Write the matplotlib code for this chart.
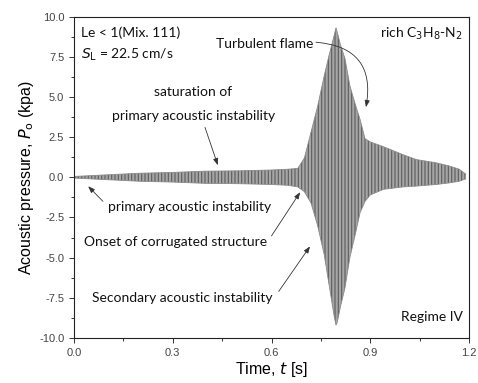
import numpy as np
import matplotlib
matplotlib.use("Agg")
import matplotlib.pyplot as plt
from matplotlib.ticker import MultipleLocator, FormatStrFormatter

# ── pressure trace envelope (kPa) over time (s) ────────────────────────────
t_env = [0.0, 0.05, 0.10, 0.20, 0.30, 0.40, 0.50, 0.60, 0.65, 0.68, 0.70,
         0.72, 0.74, 0.76, 0.775, 0.79, 0.796, 0.80, 0.81, 0.823, 0.838,
         0.855, 0.869, 0.884, 0.90, 0.94, 1.00, 1.04, 1.10, 1.14, 1.17, 1.19]
p_upper = [0.05, 0.10, 0.15, 0.25, 0.30, 0.38, 0.40, 0.45, 0.50, 0.55, 1.2,
           2.8, 4.4, 6.3, 7.6, 8.8, 9.3, 9.0, 8.2, 7.4, 5.7,
           4.5, 3.6, 2.4, 2.2, 1.9, 1.4, 1.1, 0.9, 0.7, 0.5, 0.2]
p_lower = [-0.05, -0.10, -0.15, -0.25, -0.30, -0.38, -0.40, -0.45, -0.50, -0.60, -0.9,
           -1.6, -3.0, -4.8, -6.7, -8.6, -9.2, -9.0, -8.0, -6.9, -5.0,
           -3.5, -2.2, -1.5, -1.1, -0.75, -0.6, -0.55, -0.45, -0.35, -0.25, -0.1]

x_ticks = [0.0, 0.3, 0.6, 0.9, 1.2]

ANN = {"family": "Lato", "fontsize": 10, "color": "#111111"}
ARROW = dict(arrowstyle="-|>,head_length=0.4,head_width=0.15", color="#333333",
             lw=0.6, shrinkA=0, shrinkB=0)

plt.rcParams["font.family"] = ["Liberation Sans", "DejaVu Sans"]
plt.rcParams["hatch.linewidth"] = 0.8

fig = plt.figure(figsize=(4.78, 3.83), dpi=100)
ax = fig.add_axes([0.1548, 0.1175, 0.8264, 0.8394])

# dense oscillation drawn as a hatched band between the envelopes
ax.fill_between(t_env, p_lower, p_upper, facecolor="#a6a6a6",
                edgecolor="#5c5c5c", hatch="|||||", linewidth=0)
ax.plot(t_env, p_upper, color="#8a8a8a", lw=0.6)
ax.plot(t_env, p_lower, color="#8a8a8a", lw=0.6)

ax.set_xlim(0, 1.2)
ax.set_ylim(-10, 10)
ax.set_xticks(x_ticks)
ax.xaxis.set_minor_locator(MultipleLocator(0.15))
ax.yaxis.set_major_locator(MultipleLocator(2.5))
ax.yaxis.set_minor_locator(MultipleLocator(1.25))
ax.xaxis.set_major_formatter(FormatStrFormatter("%.1f"))
ax.yaxis.set_major_formatter(FormatStrFormatter("%.1f"))
ax.tick_params(which="both", direction="out", top=False, right=False,
               color="#333333", width=0.7)
ax.tick_params(which="major", length=3.5, labelsize=8, labelcolor="#444444")
ax.tick_params(which="minor", length=2)
for s in ax.spines.values():
    s.set_linewidth(0.8)
    s.set_color("#222222")

ax.set_xlabel("Time, $t$ [s]", fontsize=11.5, labelpad=2)
ax.set_ylabel("Acoustic pressure, $P_\\mathrm{o}$ (kpa)", fontsize=11.5, labelpad=2)

# ── annotations ────────────────────────────────────────────────────────────
ax.text(0.02, 9.0, "Le < 1(Mix. 111)", ha="left", va="center", **ANN)
ax.text(0.02, 7.6, "$S_\\mathrm{L}$ = 22.5 cm/s", ha="left", va="center", **ANN)
ax.text(1.18, 8.9, "rich C$_3$H$_8$-N$_2$", ha="right", va="center", **ANN)
ax.text(1.18, -8.7, "Regime IV", ha="right", va="center", **ANN)

ax.text(0.58, 8.3, "Turbulent flame", ha="center", va="center", **ANN)
ax.annotate("", xy=(0.887, 4.36), xytext=(0.735, 8.4),
            arrowprops=dict(ARROW, connectionstyle="arc3,rad=-0.55"))

ax.text(0.362, 5.3, "saturation of", ha="center", va="center", **ANN)
ax.text(0.362, 3.8, "primary acoustic instability", ha="center", va="center", **ANN)
ax.annotate("", xy=(0.437, 0.75), xytext=(0.398, 3.1), arrowprops=ARROW)

ax.text(0.35, -1.85, "primary acoustic instability", ha="center", va="center", **ANN)
ax.annotate("", xy=(0.043, -0.56), xytext=(0.088, -1.5), arrowprops=ARROW)

ax.text(0.31, -4.0, "Onset of corrugated structure", ha="center", va="center", **ANN)
ax.annotate("", xy=(0.687, -0.93), xytext=(0.6, -3.65), arrowprops=ARROW)

ax.text(0.33, -7.5, "Secondary acoustic instability", ha="center", va="center", **ANN)
ax.annotate("", xy=(0.717, -4.3), xytext=(0.622, -7.1), arrowprops=ARROW)

fig.savefig("out.png", dpi=100, facecolor="white")
